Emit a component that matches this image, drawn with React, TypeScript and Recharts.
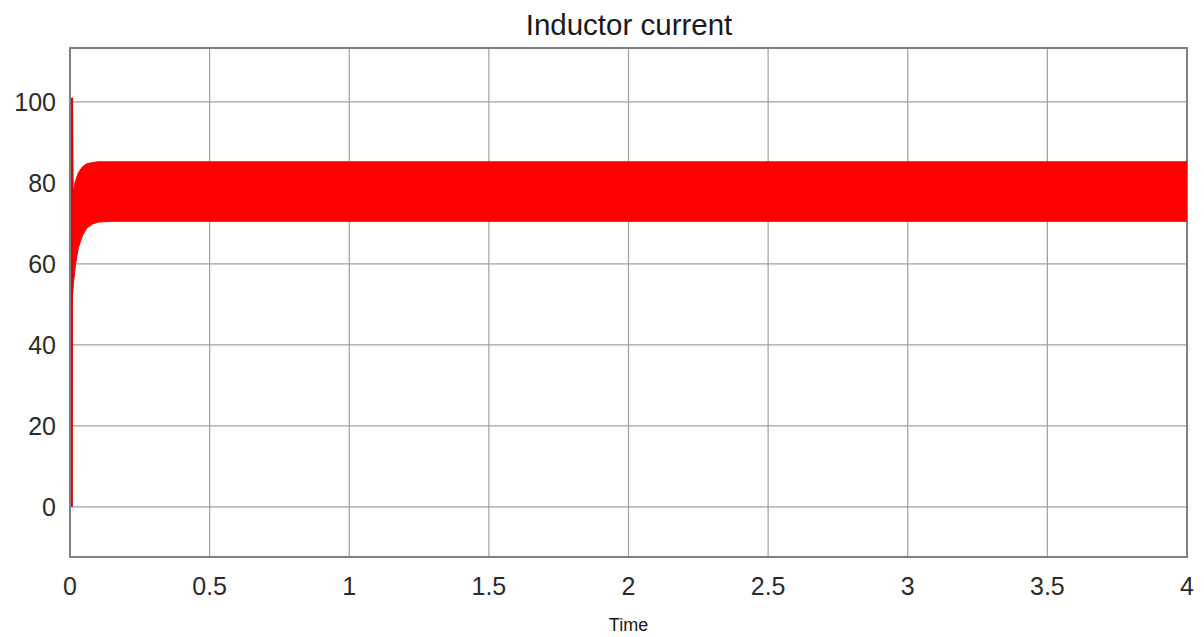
import React from "react";
import { ComposedChart, Area, Line, XAxis, YAxis, CartesianGrid, ReferenceArea } from "recharts";

// time axis (s) and current axis (A)
const xTicks = [0, 0.5, 1, 1.5, 2, 2.5, 3, 3.5, 4];
const yTicks = [0, 20, 40, 60, 80, 100];
const xDomain = [0, 4];
const yDomain = [-12.4, 113.3];

// envelope of the ripple band: time, lower, upper
const bandTime = [0.007, 0.012, 0.02, 0.03, 0.045, 0.06, 0.08, 0.1, 0.15, 4];
const bandLow = [50, 55, 60, 64, 67, 68.8, 69.8, 70.3, 70.5, 70.5];
const bandHigh = [76, 78, 80.5, 82.5, 84, 84.7, 85, 85.2, 85.2, 85.2];

// start-up spike
const spikeTime = [0.005, 0.0055, 0.008];
const spikeValue = [0, 101, 76];

const bandData = bandTime.map((t, i) => ({ t, range: [bandLow[i], bandHigh[i]] }));
const spikeData = spikeTime.map((t, i) => ({ t, v: spikeValue[i] }));

const font = '"Liberation Sans", Arial, Helvetica, sans-serif';
const tickStyle = { fill: "#2b2b2b", fontSize: 25, fontFamily: font };

export default function App() {
  return (
    <div style={{ position: "absolute", left: 0, top: 0, width: 1204, height: 637, background: "#fff" }}>
      <div
        style={{
          position: "absolute",
          left: 329,
          top: 10,
          width: 600,
          textAlign: "center",
          fontFamily: font,
          fontSize: 29.5,
          lineHeight: "29.5px",
          color: "#1a1a1a",
        }}
      >
        Inductor current
      </div>
      <ComposedChart width={1204} height={637} margin={{ top: 48, right: 17, bottom: 0, left: 0 }}>
        <CartesianGrid stroke="#a0a0a0" strokeWidth={1.2} horizontalValues={yTicks} verticalValues={xTicks} />
        <XAxis
          dataKey="t"
          type="number"
          domain={xDomain}
          ticks={xTicks}
          allowDataOverflow
          height={80}
          tickLine={false}
          tickSize={0}
          tickMargin={20}
          axisLine={{ stroke: "#808080", strokeWidth: 2 }}
          tick={tickStyle}
          label={{ value: "Time", position: "insideBottom", offset: 6, fill: "#1a1a1a", fontSize: 18, fontFamily: font }}
        />
        <YAxis
          type="number"
          domain={yDomain}
          ticks={yTicks}
          allowDataOverflow
          width={70}
          tickLine={false}
          tickSize={0}
          tickMargin={14}
          axisLine={{ stroke: "#808080", strokeWidth: 2 }}
          tick={tickStyle}
        />
        <ReferenceArea
          x1={xDomain[0]}
          x2={xDomain[1]}
          y1={yDomain[0]}
          y2={yDomain[1]}
          fill="none"
          stroke="#808080"
          strokeWidth={2}
        />
        <Area
          data={bandData}
          dataKey="range"
          type="linear"
          stroke="#ff0000"
          strokeWidth={1}
          fill="#ff0000"
          fillOpacity={1}
          isAnimationActive={false}
          dot={false}
          activeDot={false}
        />
        <Line
          data={spikeData}
          dataKey="v"
          type="linear"
          stroke="#e60000"
          strokeWidth={3}
          dot={false}
          activeDot={false}
          isAnimationActive={false}
        />
      </ComposedChart>
    </div>
  );
}
